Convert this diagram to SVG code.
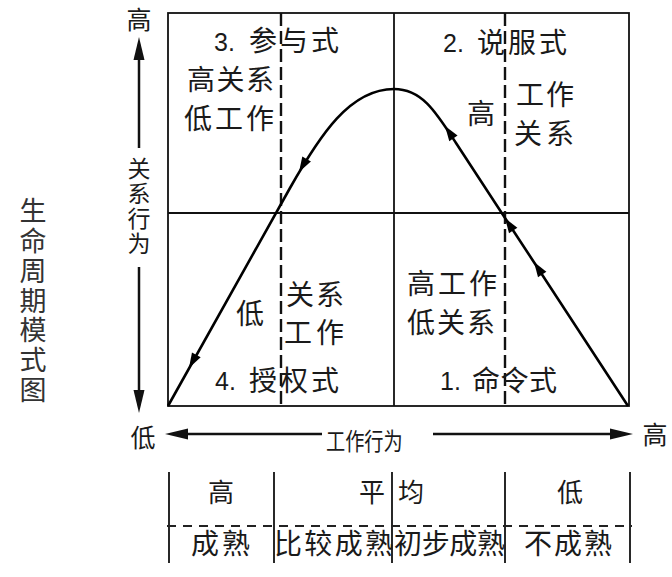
<svg xmlns="http://www.w3.org/2000/svg" xmlns:xlink="http://www.w3.org/1999/xlink" width="672" height="577" viewBox="0 0 672 577">
<style>
.cjk{font-family:"Noto Sans CJK SC","Noto Sans CJK JP",sans-serif;font-size:28px;fill:#1a1a1a}
.lat{font-family:"Liberation Sans","Noto Sans CJK SC",sans-serif;font-size:25px;fill:#1a1a1a}
.mid{text-anchor:middle}
.vt{font-family:"Noto Sans CJK SC","Noto Sans CJK JP",sans-serif;writing-mode:vertical-rl;text-orientation:upright}
.frame{fill:none;stroke:#111;stroke-width:1.8}
.dash{fill:none;stroke:#111;stroke-width:2.4;stroke-dasharray:13 5}
.axis{fill:none;stroke:#111;stroke-width:2.5}
.curve{fill:none;stroke:#000;stroke-width:2.6}
.tdash{fill:none;stroke:#222;stroke-width:1.8;stroke-dasharray:9 7}
</style>
<defs>
<path id="ah" d="M0,0 L-15,-5 L-15,5 Z" fill="#000"/>
<path id="axh" d="M0,0 L-23,-5.5 L-23,5.5 Z" fill="#111"/>
</defs>
<rect width="672" height="577" fill="#fff"/>

<g id="frame">
<rect class="frame" x="168" y="13" width="461" height="393"/>
<line class="frame" x1="168" y1="213" x2="629" y2="213"/>
<line class="frame" x1="394" y1="13" x2="394" y2="406"/>
<line class="dash" x1="281" y1="13" x2="281" y2="406"/>
<line class="dash" x1="505" y1="13" x2="505" y2="406"/>
</g>

<g id="q3">
<text class="lat" x="214" y="51">3.</text>
<text class="cjk" x="249" y="51" textLength="90" lengthAdjust="spacing">参与式</text>
<text class="cjk" x="187" y="90" textLength="87" lengthAdjust="spacing">高关系</text>
<text class="cjk" x="184" y="129" textLength="90" lengthAdjust="spacing">低工作</text>
</g>

<g id="q2">
<text class="lat" x="443" y="52">2.</text>
<text class="cjk" x="477" y="53" textLength="90" lengthAdjust="spacing">说服式</text>
<text class="cjk mid" x="481" y="124">高</text>
<text class="cjk" x="516" y="105" textLength="58" lengthAdjust="spacing">工作</text>
<text class="cjk" x="514" y="144" textLength="60" lengthAdjust="spacing">关系</text>
</g>

<g id="q4">
<text class="cjk mid" x="250" y="324">低</text>
<text class="cjk" x="286" y="305" textLength="58" lengthAdjust="spacing">关系</text>
<text class="cjk" x="284" y="343" textLength="60" lengthAdjust="spacing">工作</text>
<text class="lat" x="215" y="390">4.</text>
<text class="cjk" x="249" y="391" textLength="90" lengthAdjust="spacing">授权式</text>
</g>

<g id="q1">
<text class="cjk" x="407" y="294" textLength="90" lengthAdjust="spacing">高工作</text>
<text class="cjk" x="407" y="333" textLength="88" lengthAdjust="spacing">低关系</text>
<text class="lat" x="440" y="390">1.</text>
<text class="cjk" x="472" y="391" textLength="85" lengthAdjust="spacing">命令式</text>
</g>

<g id="axis-y">
<text class="cjk mid" x="139" y="29" style="font-size:25px">高</text>
<line class="axis" x1="139" y1="55" x2="139" y2="148"/>
<use xlink:href="#axh" transform="translate(139,37) rotate(-90)"/>
<text class="vt" x="139" y="156.5" style="font-size:23px;letter-spacing:2px;fill:#1a1a1a">关系行为</text>
<line class="axis" x1="139" y1="267" x2="139" y2="395"/>
<use xlink:href="#axh" transform="translate(139,413) rotate(90)"/>
<text class="cjk mid" x="143" y="447" style="font-size:25px">低</text>
</g>

<g id="axis-x">
<line class="axis" x1="185" y1="434" x2="322" y2="434"/>
<use xlink:href="#axh" transform="translate(165,434) rotate(180)"/>
<text class="cjk" x="0" y="0" style="font-size:24px" transform="translate(326,450) scale(0.8,1)">工作行为</text>
<line class="axis" x1="433" y1="434" x2="615" y2="434"/>
<use xlink:href="#axh" transform="translate(633,434)"/>
<text class="cjk mid" x="655" y="444" style="font-size:25px">高</text>
</g>

<g id="title">
<text class="vt" x="33" y="197.5" style="font-size:27px;letter-spacing:2.8px;fill:#333">生命周期模式图</text>
</g>

<g id="table">
<line class="frame" x1="169" y1="472" x2="169" y2="563"/>
<line class="frame" x1="274" y1="472" x2="274" y2="563"/>
<line class="frame" x1="392" y1="472" x2="392" y2="563"/>
<line class="frame" x1="505" y1="472" x2="505" y2="563"/>
<line class="frame" x1="630" y1="472" x2="630" y2="563"/>
<line class="tdash" x1="167" y1="526" x2="632" y2="526"/>
<text class="cjk mid" x="221" y="502" style="font-size:26px">高</text>
<text class="cjk mid" x="372" y="502" style="font-size:26px">平</text>
<text class="cjk mid" x="411" y="502" style="font-size:26px">均</text>
<text class="cjk mid" x="570" y="502" style="font-size:26px">低</text>
<text class="cjk" x="191" y="554" textLength="59" lengthAdjust="spacing">成熟</text>
<text class="cjk" x="274" y="554" textLength="119" lengthAdjust="spacing">比较成熟</text>
<text class="cjk" x="394" y="554" textLength="111" lengthAdjust="spacing">初步成熟</text>
<text class="cjk" x="524" y="554" textLength="88" lengthAdjust="spacing">不成熟</text>
</g>

<g id="connectors">
<path class="curve" d="M168,406 L290,188 C320,135 350,89 394,89 C422,89 436,112 456,143 L628,406"/>
<use xlink:href="#ah" transform="translate(299,172) rotate(120.5)"/>
<use xlink:href="#ah" transform="translate(189,368) rotate(119.2)"/>
<use xlink:href="#ah" transform="translate(445,126) rotate(-124.1)"/>
<use xlink:href="#ah" transform="translate(505,218) rotate(-123.1)"/>
<use xlink:href="#ah" transform="translate(534,262) rotate(-123.1)"/>
</g>
</svg>
